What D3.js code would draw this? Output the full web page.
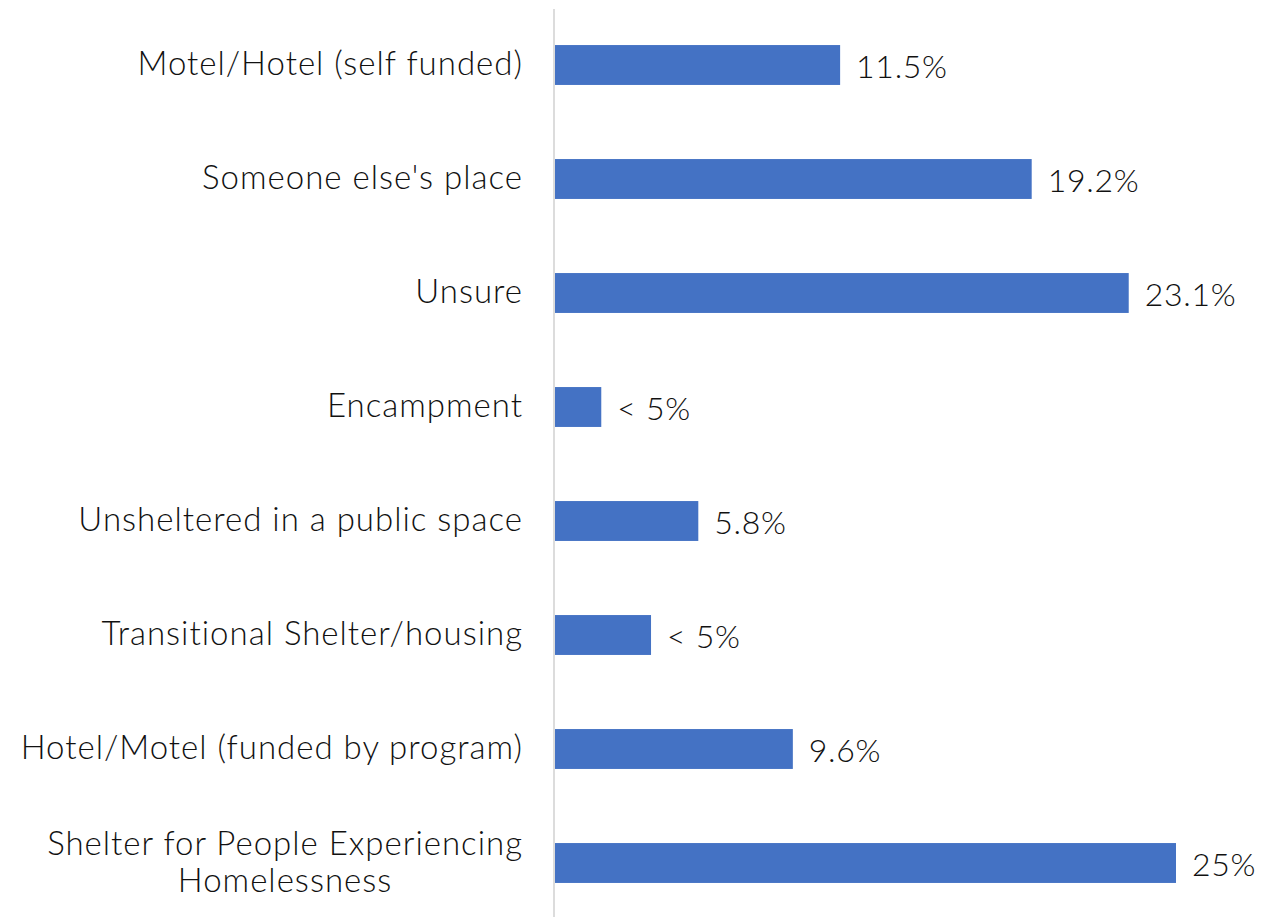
<!DOCTYPE html>
<html>
<head>
<meta charset="utf-8">
<script src="https://cdn.jsdelivr.net/npm/d3@7"></script>
<style>
  html, body { margin: 0; padding: 0; background: #fff; }
  svg { display: block; }
  text { font-family: Lato, "Open Sans", sans-serif; font-weight: 300; fill: #111; }
</style>
</head>
<body>
<svg id="chart" width="1263" height="917"></svg>
<script>
const categories = [
  ["Motel/Hotel (self funded)"],
  ["Someone else's place"],
  ["Unsure"],
  ["Encampment"],
  ["Unsheltered in a public space"],
  ["Transitional Shelter/housing"],
  ["Hotel/Motel (funded by program)"],
  ["Shelter for People Experiencing", "Homelessness"]
];
const values = [11.5, 19.2, 23.1, 1.9, 5.8, 3.9, 9.6, 25];
const valueLabels = ["11.5%", "19.2%", "23.1%", "< 5%", "5.8%", "< 5%", "9.6%", "25%"];

const svg = d3.select("#chart");
const keys = categories.map(c => c.join(" "));

const x = d3.scaleLinear().domain([0, 25]).range([554, 1176]);
const y = d3.scaleBand().domain(keys).range([8, 920]).paddingInner(0.65).paddingOuter(0.325);

// axis line
svg.append("line")
  .attr("x1", x(0)).attr("x2", x(0))
  .attr("y1", 9).attr("y2", 917)
  .attr("stroke", "#d0d0d0").attr("stroke-width", 1.5);

// bars
svg.selectAll("rect.bar").data(values).join("rect")
  .attr("class", "bar")
  .attr("x", x(0) + 1)
  .attr("y", (d, i) => y(keys[i]))
  .attr("width", d => x(d) - x(0) - 1)
  .attr("height", y.bandwidth())
  .attr("fill", "#4472C4");

// value labels
svg.selectAll("text.val").data(values).join("text")
  .attr("class", "val")
  .attr("x", d => x(d) + 16)
  .attr("y", (d, i) => y(keys[i]) + y.bandwidth() / 2 + 12.5)
  .attr("font-size", 32)
  .attr("letter-spacing", "0.7px")
  .text((d, i) => valueLabels[i]);

// category labels
const labelRight = 523;
const lineH = 37;
categories.forEach((lines, i) => {
  const cy = y(keys[i]) + y.bandwidth() / 2;
  const g = svg.append("g");
  const n = lines.length;
  const texts = lines.map((ln, j) => g.append("text")
    .attr("font-size", 33)
    .attr("letter-spacing", "1px")
    .attr("y", cy + 10 + (j - (n - 1) / 2) * lineH)
    .text(ln));
  const maxW = d3.max(texts, t => t.node().getComputedTextLength());
  texts.forEach(t => t.attr("text-anchor", "middle").attr("x", labelRight - maxW / 2));
});
</script>
</body>
</html>
